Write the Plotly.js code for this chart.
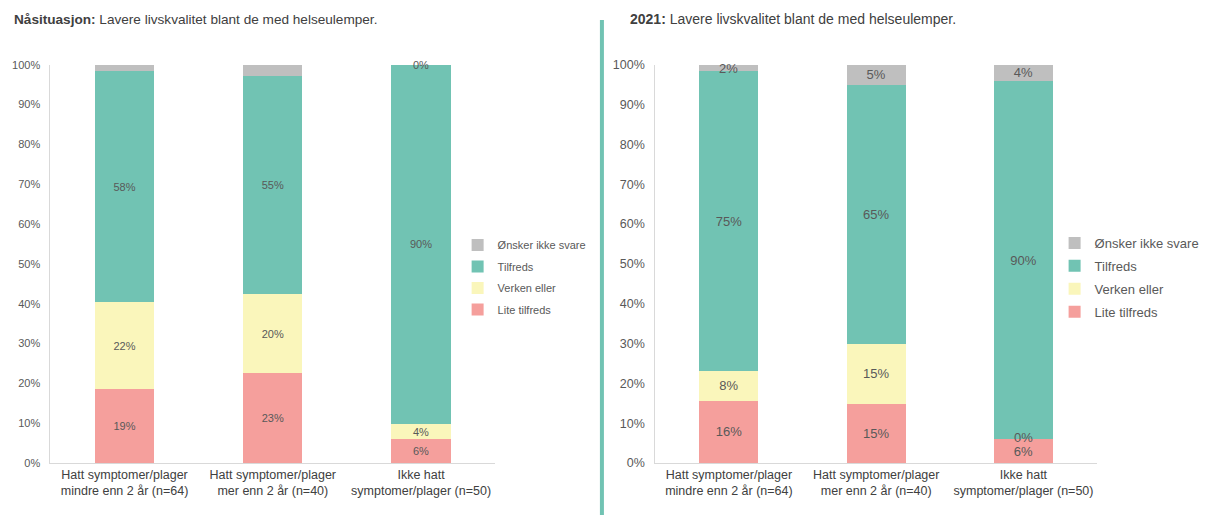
<!DOCTYPE html>
<html>
<head>
<meta charset="utf-8">
<script src="https://cdn.plot.ly/plotly-3.0.1.min.js"></script>
<style>
  html, body { margin: 0; padding: 0; background: #fff; }
  #chart { width: 1205px; height: 515px; }
</style>
</head>
<body>
<div id="chart"></div>
<script>
const categories = [
    'Hatt symptomer/plager<br>mindre enn 2 år (n=64)',
    'Hatt symptomer/plager<br>mer enn 2 år (n=40)',
    'Ikke hatt<br>symptomer/plager (n=50)'
];
const seriesNames  = ['Lite tilfreds', 'Verken eller', 'Tilfreds', 'Ønsker ikke svare'];
const seriesColors = ['#f59f9c', '#faf6bb', '#71c3b3', '#bfbfbf'];

// Nåsituasjon, prosent
const nowLite     = [18.5, 22.6, 5.9];
const nowVerken   = [22.0, 19.8, 3.9];
const nowTilfreds = [57.8, 54.8, 90.2];
const nowOnsker   = [1.7, 2.8, 0];
const nowOnskerShowLabel = [false, false, true];

// 2021, prosent
const y21Lite     = [15.6, 14.9, 5.9];
const y21Verken   = [7.5, 14.9, 0];
const y21Tilfreds = [75.2, 65.2, 90.1];
const y21Onsker   = [1.7, 5.0, 4.0];

const W = 1205, H = 515;
const px = v => v / W;
const py = v => 1 - v / H;
const FONT = 'Liberation Sans, Arial, sans-serif';
const TXT = '#595959';

let annotations = [];

function buildPanel(series, xa, ya, legendId, fontSize, showMasks) {
    let traces = [];
    let base = categories.map(() => 0);

    series.forEach((vals, s) => {
        let mask = showMasks[s] || vals.map(() => true);
        // segments too thin for plotly's bar text get an annotation instead
        let tiny = vals.map(v => v < 3);
        let labels = vals.map((v, i) => (mask[i] && !tiny[i]) ? Math.round(v) + '%' : '');

        vals.forEach((v, i) => {
            if (tiny[i] && mask[i]) {
                let mid = base[i] + v / 2;
                annotations.push({
                    xref: xa, yref: ya,
                    x: categories[i], y: mid,
                    yshift: (v === 0 && mid > 0 && mid < 100) ? 2 : 0,
                    text: Math.round(v) + '%', showarrow: false,
                    font: { family: FONT, size: fontSize, color: TXT }
                });
            }
        });
        base = base.map((b, i) => b + vals[i]);

        traces.push({
            type: 'bar',
            x: categories,
            y: vals,
            xaxis: xa,
            yaxis: ya,
            name: seriesNames[s],
            legend: legendId,
            legendgroup: legendId + s,
            legendrank: series.length - s,
            marker: { color: seriesColors[s] },
            text: labels,
            textposition: 'inside',
            insidetextanchor: 'middle',
            constraintext: 'none',
            textangle: 0,
            cliponaxis: false,
            textfont: { family: FONT, size: fontSize, color: TXT },
            hoverinfo: 'skip'
        });
    });
    return traces;
}

let data = [].concat(
    buildPanel([nowLite, nowVerken, nowTilfreds, nowOnsker], 'x', 'y', 'legend', 11,
        [null, null, null, nowOnskerShowLabel]),
    buildPanel([y21Lite, y21Verken, y21Tilfreds, y21Onsker], 'x2', 'y2', 'legend2', 13,
        [null, null, null, null])
);

annotations.push({
    xref: 'paper', yref: 'paper', x: px(12), y: py(19),
    xanchor: 'left', yanchor: 'middle', showarrow: false,
    text: '<b>Nåsituasjon:</b> Lavere livskvalitet blant de med helseulemper.',
    font: { family: FONT, size: 13.6, color: '#404040' }
});
annotations.push({
    xref: 'paper', yref: 'paper', x: px(635), y: py(19),
    xanchor: 'left', yanchor: 'middle', showarrow: false,
    text: '<b>2021:</b> Lavere livskvalitet blant de med helseulemper.',
    font: { family: FONT, size: 14, color: '#404040' }
});

let yDomain = [py(463), py(64.7)];

function xAxis(domain, anchor) {
    return {
        domain: domain, anchor: anchor,
        showline: true, linecolor: '#d9d9d9', linewidth: 1,
        ticks: '', showgrid: false,
        tickfont: { family: FONT, size: 12.5, color: '#404040' },
        fixedrange: true
    };
}
function yAxis(domain, anchor, size) {
    return {
        domain: domain, anchor: anchor,
        range: [0, 100], dtick: 10, ticksuffix: '%',
        showline: true, linecolor: '#d9d9d9', linewidth: 1,
        ticks: '', showgrid: false, zeroline: false,
        ticklabelstandoff: 7,
        tickfont: { family: FONT, size: size, color: TXT },
        fixedrange: true
    };
}

let layout = {
    width: W, height: H,
    margin: { l: 0, r: 0, t: 0, b: 0 },
    paper_bgcolor: '#ffffff',
    plot_bgcolor: '#ffffff',
    barmode: 'stack',
    bargap: 0.6,
    xaxis:  xAxis([px(51), px(501)], 'y'),
    yaxis:  yAxis(yDomain, 'x', 11),
    xaxis2: xAxis([px(663), px(1110)], 'y2'),
    yaxis2: yAxis(yDomain, 'x2', 12.5),
    legend: {
        x: px(463), y: py(230.5), xanchor: 'left', yanchor: 'top',
        traceorder: 'grouped', tracegroupgap: 2.5,
        font: { family: FONT, size: 11, color: TXT },
        bgcolor: 'rgba(0,0,0,0)'
    },
    legend2: {
        x: px(1067), y: py(228), xanchor: 'left', yanchor: 'top',
        traceorder: 'grouped', tracegroupgap: 3,
        font: { family: FONT, size: 13, color: TXT },
        bgcolor: 'rgba(0,0,0,0)'
    },
    shapes: [{
        type: 'line', xref: 'paper', yref: 'paper',
        x0: px(609), x1: px(609), y0: py(20), y1: 0,
        line: { color: '#71c3b3', width: 4 }
    }],
    annotations: annotations
};

Plotly.newPlot('chart', data, layout, { displayModeBar: false, staticPlot: true });
</script>
</body>
</html>
